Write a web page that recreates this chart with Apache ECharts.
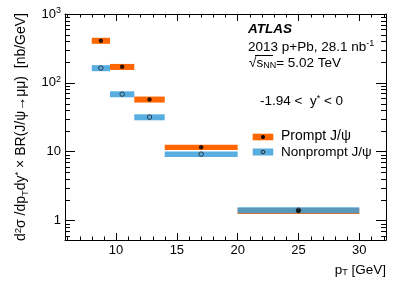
<!DOCTYPE html>
<html><head><meta charset="utf-8">
<script src="https://cdn.jsdelivr.net/npm/echarts@6/dist/echarts.min.js"></script>
<style>html,body{margin:0;padding:0;background:#fff}#c{width:407px;height:287px}</style>
</head><body><div id="c"></div>
<script>
// ---- data ----
const binLow    = [8, 9.5, 11.5, 14, 20];
const binHigh   = [9.5, 11.5, 14, 20, 30];
const binCenter = [8.75, 10.5, 12.75, 17, 25];
const promptVal    = [410, 171, 57.4, 11.6, 1.38];
const promptSysRel = [0.10, 0.10, 0.10, 0.09, 0.10];
const nonpromptVal    = [164, 68.5, 31.7, 9.2, 1.41];
const nonpromptSysRel = [0.10, 0.10, 0.10, 0.09, 0.10];
const xMajorLabels = [10, 15, 20, 25, 30];
const xMinorTicks = [6,7,8,9,11,12,13,14,16,17,18,19,21,22,23,24,26,27,28,29,31,32];
const yMinorTicks = [0.6,0.7,0.8,0.9,2,3,4,5,6,7,8,9,20,30,40,50,60,70,80,90,200,300,400,500,600,700,800,900];
const xMin = 5.8, xMax = 32.2, yMin = 0.52, yMax = 1000;

const FONT = '"Liberation Sans", Arial, Helvetica, sans-serif';
const ORANGE = '#ff6600';
const BLUE = 'rgba(60,160,220,0.85)';

const chart = echarts.init(document.getElementById('c'), null, {renderer: 'canvas'});

function boxData(vals, rel) {
  return binLow.map((l, i) => [l, binHigh[i], vals[i] * (1 + rel[i]), vals[i] * (1 - rel[i])]);
}
function boxRender(fill) {
  return function (params, api) {
    const a = api.coord([api.value(0), api.value(3)]);
    const b = api.coord([api.value(1), api.value(2)]);
    return {type: 'rect', shape: {x: a[0], y: b[1], width: b[0] - a[0], height: a[1] - b[1]},
            style: {fill: fill}};
  };
}
function yTickRender(params, api) {
  const p = api.coord([xMin, api.value(1)]);
  const cs = params.coordSys;
  const y = Math.round(p[1]) + 0.5;
  return {type: 'group', children: [
    {type: 'line', shape: {x1: cs.x, y1: y, x2: cs.x + 5, y2: y}, style: {stroke: '#000', lineWidth: 1}},
    {type: 'line', shape: {x1: cs.x + cs.width, y1: y, x2: cs.x + cs.width - 5, y2: y}, style: {stroke: '#000', lineWidth: 1}}
  ]};
}
function xTickRender(params, api) {
  const p = api.coord([api.value(0), yMin]);
  const cs = params.coordSys;
  const x = Math.round(p[0]) + 0.5;
  return {type: 'group', children: [
    {type: 'line', shape: {x1: x, y1: cs.y + cs.height, x2: x, y2: cs.y + cs.height - 3.5}, style: {stroke: '#000', lineWidth: 1}},
    {type: 'line', shape: {x1: x, y1: cs.y, x2: x, y2: cs.y + 3.5}, style: {stroke: '#000', lineWidth: 1}}
  ]};
}
function yFormatter(v) {
  const l = Math.log10(v), e = Math.round(l);
  if (Math.abs(l - e) > 1e-6) return '';
  if (e === 0) return '1';
  if (e === 1) return '10';
  return '10{sup|' + e + '}';
}

const axisCommon = {axisLine: {show: true, onZero: false, lineStyle: {color: '#000', width: 1}}, splitLine: {show: false}};

chart.setOption({
  animation: false,
  backgroundColor: '#fff',
  grid: {left: 65, right: 21, top: 14, bottom: 47, containLabel: false},
  xAxis: [
    Object.assign({type: 'value', min: xMin, max: xMax, position: 'bottom',
      axisTick: {show: true, inside: true, length: 7, lineStyle: {color: '#000'}},
      axisLabel: {margin: 4, color: '#000', fontSize: 13, fontFamily: FONT,
        formatter: v => (xMajorLabels.indexOf(v) >= 0 ? String(v) : '')}}, axisCommon),
    Object.assign({type: 'value', min: xMin, max: xMax, position: 'top',
      axisTick: {show: true, inside: true, length: 7, lineStyle: {color: '#000'}},
      axisLabel: {show: false}}, axisCommon)
  ],
  yAxis: [
    Object.assign({type: 'log', logBase: 10, min: yMin, max: yMax, position: 'left',
      axisTick: {show: true, inside: true, length: 10, lineStyle: {color: '#000'}},
      axisLabel: {margin: 4, color: '#000', fontSize: 13, fontFamily: FONT, formatter: yFormatter,
        rich: {sup: {fontSize: 9, fontFamily: FONT, color: '#000', verticalAlign: 'top', padding: [0, 0, 6, 0]}}}}, axisCommon),
    Object.assign({type: 'log', logBase: 10, min: yMin, max: yMax, position: 'right',
      axisTick: {show: true, inside: true, length: 10, lineStyle: {color: '#000'}},
      axisLabel: {show: false}}, axisCommon)
  ],
  series: [
    {type: 'custom', silent: true, xAxisIndex: 0, yAxisIndex: 0, renderItem: yTickRender,
      data: yMinorTicks.map(v => [xMin, v]), z: 5},
    {type: 'custom', silent: true, xAxisIndex: 0, yAxisIndex: 0, renderItem: xTickRender,
      data: xMinorTicks.map(v => [v, yMin]), z: 5},
    {type: 'custom', name: 'Prompt', renderItem: boxRender(ORANGE), encode: {x: [0, 1], y: [2, 3]},
      data: boxData(promptVal, promptSysRel), z: 2},
    {type: 'custom', name: 'Nonprompt', renderItem: boxRender(BLUE), encode: {x: [0, 1], y: [2, 3]},
      data: boxData(nonpromptVal, nonpromptSysRel), z: 3},
    {type: 'scatter', symbol: 'circle', symbolSize: 4.5, z: 4,
      itemStyle: {color: 'rgba(0,0,0,0)', borderColor: '#222', borderWidth: 1},
      data: binCenter.map((x, i) => [x, nonpromptVal[i]])},
    {type: 'scatter', symbol: 'circle', symbolSize: 4.5, z: 4,
      itemStyle: {color: '#000'},
      data: binCenter.map((x, i) => [x, promptVal[i]])}
  ],
  graphic: [
    {type: 'text', x: 248, y: 29.5, style: {text: 'ATLAS', font: 'italic bold 13.5px ' + FONT, fill: '#000', verticalAlign: 'middle'}},
    {type: 'text', x: 248, y: 47, style: {text: '2013 p+Pb, 28.1 nb{sup|-1}', font: '13.5px ' + FONT, fill: '#000', verticalAlign: 'middle',
      rich: {sup: {fontSize: 9, fontFamily: FONT, fill: '#000', verticalAlign: 'top', padding: [0, 0, 7, 0]}}}},
    {type: 'text', x: 249, y: 63, style: {text: '√s{sub|NN}= 5.02 TeV', font: '13.5px ' + FONT, fill: '#000', verticalAlign: 'middle',
      rich: {sub: {fontSize: 9, fontFamily: FONT, fill: '#000', verticalAlign: 'bottom', padding: [6, 0, 0, 0]}}}},
    {type: 'line', shape: {x1: 255, y1: 55.5, x2: 273, y2: 55.5}, style: {stroke: '#000', lineWidth: 1}},
    {type: 'text', x: 260, y: 101.5, style: {text: '-1.94 <  y{sup|*} < 0', font: '13.5px ' + FONT, fill: '#000', verticalAlign: 'middle',
      rich: {sup: {fontSize: 9, fontFamily: FONT, fill: '#000', verticalAlign: 'top', padding: [0, 0, 6, 0]}}}},
    // legend
    {type: 'rect', shape: {x: 252.7, y: 133.7, width: 20.6, height: 6.6}, style: {fill: ORANGE}},
    {type: 'circle', shape: {cx: 263, cy: 137, r: 2}, style: {fill: '#000'}},
    {type: 'rect', shape: {x: 252.7, y: 148.5, width: 20.6, height: 7}, style: {fill: BLUE}},
    {type: 'circle', shape: {cx: 263, cy: 152, r: 1.8}, style: {fill: 'none', stroke: '#222', lineWidth: 1}},
    {type: 'text', x: 281, y: 136.5, style: {text: 'Prompt J/ψ', font: '14px ' + FONT, fill: '#000', verticalAlign: 'middle'}},
    {type: 'text', x: 281, y: 152, style: {text: 'Nonprompt J/ψ', font: '13.5px ' + FONT, fill: '#000', verticalAlign: 'middle'}},
    // axis titles
    {type: 'text', x: 386, y: 270, style: {text: 'p{sub|T} [GeV]', font: '13.5px ' + FONT, fill: '#000', align: 'right', verticalAlign: 'middle',
      rich: {sub: {fontSize: 9, fontFamily: FONT, fill: '#000', verticalAlign: 'bottom', padding: [6, 0, 0, 0]}}}},
    {type: 'text', x: 21.5, y: 13, rotation: Math.PI / 2,
      style: {text: 'd{sup|2}σ /dp{sub|T}dy{sup|*} × BR(J/ψ→μμ)  [nb/GeV]', font: '14px ' + FONT, fill: '#000', align: 'right', verticalAlign: 'middle',
      rich: {sup: {fontSize: 9.5, fontFamily: FONT, fill: '#000', verticalAlign: 'top', padding: [0, 0, 6, 0]},
             sub: {fontSize: 9.5, fontFamily: FONT, fill: '#000', verticalAlign: 'bottom', padding: [7, 0, 0, 0]}}}}
  ]
});
</script></body></html>
